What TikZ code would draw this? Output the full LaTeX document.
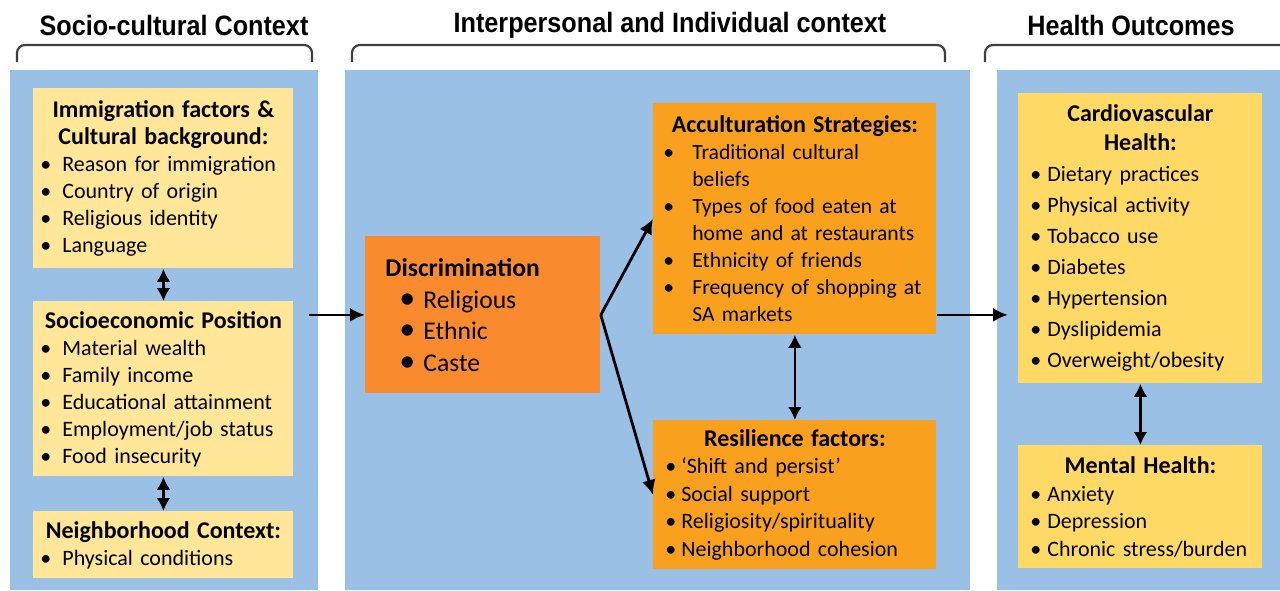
\documentclass[tikz,border=0pt]{standalone}
\usepackage{fontspec}
\setmainfont{Carlito}
\newfontfamily\headfont[FakeStretch=0.9]{Liberation Sans}
\usetikzlibrary{arrows.meta, positioning}
\definecolor{panelblue}{HTML}{9BC0E6}
\definecolor{paleyellow}{HTML}{FFE699}
\definecolor{goldyellow}{HTML}{FFD966}
\definecolor{darkorange}{HTML}{F98A2E}
\definecolor{lightorange}{HTML}{F9A01E}
\definecolor{bracketgray}{HTML}{404040}
\newcommand*{\bul}[2][11pt]{\par\hangindent=#1\hangafter=1\noindent\makebox[#1][l]{\textbullet}#2\par}
\newcommand*{\hd}[2][13.5pt]{{\centering\bfseries\fontsize{12}{#1}\selectfont #2\par}}
\newcommand*{\bigbul}[1]{\par\hspace*{7pt}\makebox[12pt][l]{\fontsize{16}{15}\selectfont\textbullet}#1}
\tikzstyle{panel} = [anchor=north west, fill=panelblue, inner sep=0pt, minimum height=260pt]
\tikzstyle{heading} = [font=\headfont\bfseries\fontsize{14}{16}\selectfont]
\tikzstyle{bracket} = [draw=bracketgray, line width=1.1pt, rounded corners=4pt]
\tikzstyle{box} = [anchor=north west, align=left, inner xsep=3.5pt, inner ysep=0pt, font=\fontsize{11}{13.5}\selectfont]
\tikzstyle{context} = [box, fill=paleyellow]
\tikzstyle{trigger} = [box, fill=darkorange]
\tikzstyle{culture} = [box, fill=lightorange]
\tikzstyle{outcome} = [box, fill=goldyellow]
\tikzstyle{link} = [-{Latex[length=7.5pt, width=7pt]}, line width=1.4pt]
\tikzstyle{biway} = [{Latex[length=6.5pt, width=7pt]}-{Latex[length=6.5pt, width=7pt]}, line width=1.4pt]

\begin{document}
\begin{tikzpicture}[x=0.5pt, y=-0.5pt]
    \useasboundingbox (0,0) rectangle (1280,590);

    % Panels.
    \node (ctxpanel) [panel, minimum width=154pt] at (10,70) {};
    \node (intpanel) [panel, minimum width=312.5pt] at (345,70) {};
    \node (outpanel) [panel, minimum width=141.5pt] at (997,70) {};

    % Headings and brackets.
    \node (ctxhead) [heading] at (174,25) {Socio-cultural Context};
    \node (inthead) [heading] at (670,25) {Interpersonal and Individual context};
    \node (outhead) [heading] at (1131,25) {Health Outcomes};

    \draw [bracket] (17,62) -- (17,45) -- (312,45) -- (312,62);
    \draw [bracket] (352,62) -- (352,45) -- (945,45) -- (945,62);
    \draw [bracket] (985,62) -- (985,45) -- (1280,45);

    % Socio-cultural context.
    \node (immig) [context, text width=123pt, minimum height=90pt] at (33,88) {%
        \hd{Immigration factors \&\\Cultural background:}
        \bul{Reason for immigration}
        \bul{Country of origin}
        \bul{Religious identity}
        \bul{Language}};
    \node (sep) [context, text width=123pt, minimum height=87.5pt] at (33,301) {%
        \hd{Socioeconomic Position}
        \bul{Material wealth}
        \bul{Family income}
        \bul{Educational attainment}
        \bul{Employment/job status}
        \bul{Food insecurity}};
    \node (neigh) [context, text width=123pt, minimum height=33.5pt] at (33,511) {%
        \hd{Neighborhood Context:}
        \bul{Physical conditions}};

    % Interpersonal and individual context.
    \node (discr) [trigger, inner xsep=10pt, text width=97.5pt, minimum height=78.5pt,
        font=\fontsize{12.8}{15.8}\selectfont] at (365,236) {%
        \textbf{Discrimination}
        \bigbul{Religious}
        \bigbul{Ethnic}
        \bigbul{Caste}};
    \node (accult) [culture, inner xsep=5pt, text width=131.5pt, minimum height=115.5pt,
        font=\fontsize{10.8}{13.5}\selectfont] at (653,103) {%
        \hd{Acculturation Strategies:}
        \bul[14.5pt]{Traditional cultural\newline beliefs}
        \bul[14.5pt]{Types of food eaten at\newline home and at restaurants}
        \bul[14.5pt]{Ethnicity of friends}
        \bul[14.5pt]{Frequency of shopping at\newline SA markets}};
    \node (resil) [culture, inner xsep=6pt, text width=129.5pt, minimum height=74.5pt,
        font=\fontsize{11}{13.75}\selectfont] at (653,420) {%
        \hd{Resilience factors:}
        \bul[8pt]{`Shift and persist'}
        \bul[8pt]{Social support}
        \bul[8pt]{Religiosity/spirituality}
        \bul[8pt]{Neighborhood cohesion}};

    % Health outcomes.
    \node (cardio) [outcome, inner xsep=6pt, text width=110pt, minimum height=145pt,
        font=\fontsize{11}{15.5}\selectfont] at (1018,93) {%
        \hd[14.5pt]{Cardiovascular\\Health:}
        \bul[8.5pt]{Dietary practices}
        \bul[8.5pt]{Physical activity}
        \bul[8.5pt]{Tobacco use}
        \bul[8.5pt]{Diabetes}
        \bul[8.5pt]{Hypertension}
        \bul[8.5pt]{Dyslipidemia}
        \bul[8.5pt]{Overweight/obesity}};
    \node (mental) [outcome, inner xsep=6pt, text width=110pt, minimum height=61.5pt,
        font=\fontsize{11}{13.75}\selectfont] at (1018,445) {%
        \hd{Mental Health:}
        \bul[8.5pt]{Anxiety}
        \bul[8.5pt]{Depression}
        \bul[8.5pt]{Chronic stress/burden}};

    % Arrows.
    \draw [biway] (immig) -- (sep);
    \draw [biway] (sep) -- (neigh);
    \draw [link] ([xshift=-5pt]ctxpanel.east |- discr.west) -- (discr.west);
    \draw [link] (discr.east) -- (accult.west);
    \draw [link] (discr.east) -- (resil.west);
    \draw [biway] (accult) -- (resil);
    \draw [link] (accult.east |- discr.east) -- ([xshift=-5pt]cardio.west |- discr.east);
    \draw [biway] (cardio) -- (mental);
\end{tikzpicture}
\end{document}
